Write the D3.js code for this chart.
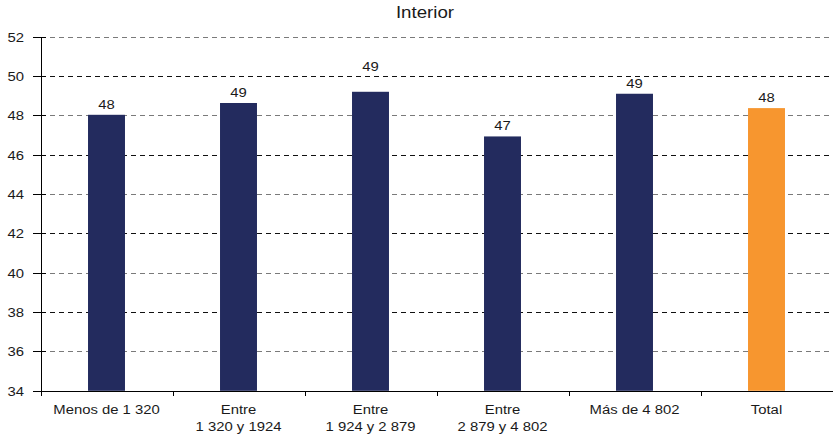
<!DOCTYPE html>
<html>
<head>
<meta charset="utf-8">
<script src="https://cdn.jsdelivr.net/npm/d3@7"></script>
<style>
  body { margin: 0; background: #fff; }
  text { font-family: "Liberation Sans", Arial, sans-serif; fill: #1a1a1a; }
</style>
</head>
<body>
<div id="chart"></div>
<script>
//Data
let categories = ["Menos de 1 320", "Entre\n1 320 y 1924", "Entre\n1 924 y 2 879", "Entre\n2 879 y 4 802", "Más de 4 802", "Total"];
let values = [48.03, 48.63, 49.2, 46.93, 49.1, 48.37];
let valueLabels = ["48", "49", "49", "47", "49", "48"];
let yTicks = [34, 36, 38, 40, 42, 44, 46, 48, 50, 52];
let title = "Interior";

//Variables
let width = 833, height = 437,
    plotLeft = 40.5, plotRight = 832.5, plotTop = 36.7, plotBottom = 390.8,
    fontSize = 13.5, stretch = 1.1; //original text is a bit wider than Arial

let svg = d3.select("#chart").append("svg")
  .attr("width", width)
  .attr("height", height);

let x = d3.scaleBand()
  .domain(categories)
  .range([plotLeft, plotRight])
  .paddingInner(0.72)
  .paddingOuter(0.36);

let y = d3.scaleLinear()
  .domain([34, 52])
  .range([plotBottom, plotTop]);

//Helper: put a (horizontally stretched) text at x,y
function addText(g, tx, ty, str, anchor, size) {
  return g.append("text")
    .attr("transform", "translate(" + tx + "," + ty + ") scale(" + stretch + ",1)")
    .attr("text-anchor", anchor)
    .style("font-size", size + "px")
    .text(str);
}

//Grid lines (dashed), dark and grey alternating like the original
svg.append("g").attr("shape-rendering", "crispEdges").selectAll("line")
  .data(yTicks.filter(t => t > 34))
  .enter().append("line")
    .attr("x1", plotLeft).attr("x2", plotRight)
    .attr("y1", d => Math.round(y(d)) + 0.5).attr("y2", d => Math.round(y(d)) + 0.5)
    .attr("stroke", d => (d % 4 === 0) ? "#7a7a7a" : "#111")
    .attr("stroke-dasharray", "5,4");

//Bars
svg.append("g").selectAll("rect")
  .data(categories)
  .enter().append("rect")
    .attr("x", d => x(d))
    .attr("width", x.bandwidth())
    .attr("y", (d, i) => y(values[i]))
    .attr("height", (d, i) => y(34) - y(values[i]))
    .attr("fill", (d, i) => i === categories.length - 1 ? "#f7962f" : "#232b5e");

//Value labels: sit 6px above the bar, pushed above a grid line if they would cross it
let labelG = svg.append("g");
categories.forEach(function(c, i) {
  let base = y(values[i]) - 6;
  let topOfText = base - fontSize * 0.72;
  yTicks.forEach(function(t) {
    let gy = y(t);
    if (gy > topOfText - 1 && gy < base) base = gy - 5;
  });
  addText(labelG, x(c) + x.bandwidth() / 2, base, valueLabels[i], "middle", fontSize);
});

//Y axis
let yAxis = svg.append("g")
  .attr("transform", "translate(" + Math.round(plotLeft) + ",0)");
yAxis.append("line")
  .attr("shape-rendering", "crispEdges")
  .attr("x1", 0.5).attr("x2", 0.5)
  .attr("y1", Math.round(plotTop)).attr("y2", Math.round(plotBottom) + 1)
  .attr("stroke", "#000");
yAxis.selectAll(".tick")
  .data(yTicks)
  .enter().append("line")
    .attr("class", "tick")
    .attr("shape-rendering", "crispEdges")
    .attr("x1", -8).attr("x2", 5)
    .attr("y1", d => Math.round(y(d)) + 0.5).attr("y2", d => Math.round(y(d)) + 0.5)
    .attr("stroke", "#000");
yTicks.forEach(t => addText(yAxis, -17, y(t) + 5, t, "end", fontSize));

//X axis
let xAxis = svg.append("g").attr("shape-rendering", "crispEdges");
xAxis.append("line")
  .attr("x1", plotLeft).attr("x2", plotRight)
  .attr("y1", Math.round(plotBottom) + 0.5).attr("y2", Math.round(plotBottom) + 0.5)
  .attr("stroke", "#000");
let step = x.step();
xAxis.selectAll(".tick")
  .data(d3.range(categories.length + 1))
  .enter().append("line")
    .attr("class", "tick")
    .attr("x1", i => Math.round(plotLeft + i * step) + 0.5).attr("x2", i => Math.round(plotLeft + i * step) + 0.5)
    .attr("y1", Math.round(plotBottom)).attr("y2", Math.round(plotBottom) + 5)
    .attr("stroke", "#000");

//Category labels (two lines where needed)
let catG = svg.append("g");
categories.forEach(function(c) {
  let cx = x(c) + x.bandwidth() / 2;
  c.split("\n").forEach((line, j) => addText(catG, cx, 414 + j * 16.5, line, "middle", fontSize));
});

//Title
addText(svg, 425, 18, title, "middle", 17);
</script>
</body>
</html>
